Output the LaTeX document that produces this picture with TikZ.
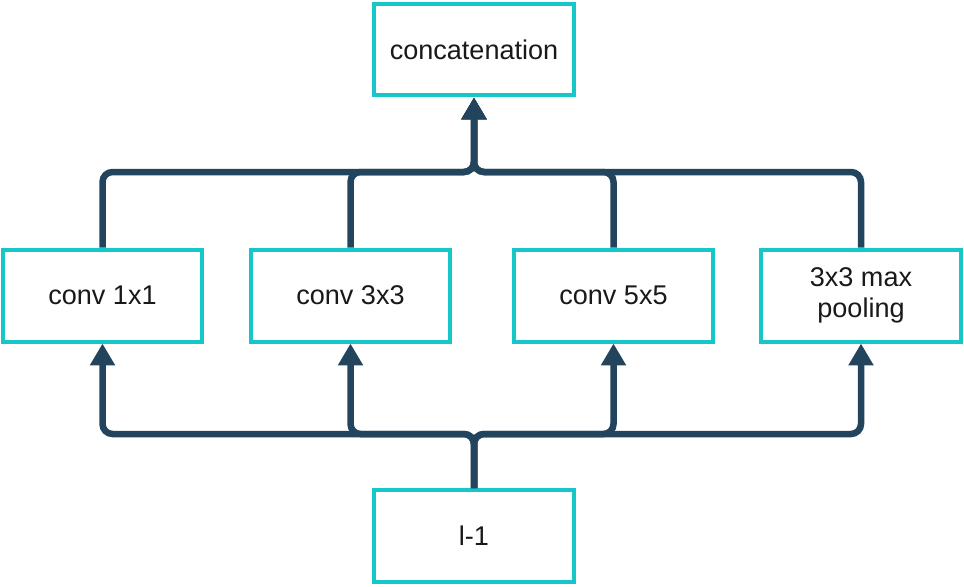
\documentclass[tikz,border=0pt]{standalone}
\usepackage{fontspec}
\setmainfont{Liberation Sans}
\usetikzlibrary{arrows.meta}
\definecolor{tealb}{RGB}{22,198,201}
\definecolor{navy}{RGB}{35,68,93}
\begin{document}
\begin{tikzpicture}[x=0.02cm,y=-0.02cm,
  blk/.style={draw=tealb, line width=0.08cm, minimum width=4cm, minimum height=1.84cm, inner sep=0pt, align=center, font=\fontsize{15.4}{17.5}\selectfont, fill=white, text=black!90},
  link/.style={draw=navy, line width=0.13cm, rounded corners=0.2cm},
  arr/.style={link, -{Triangle[width=0.48cm,length=0.44cm]}}]
\useasboundingbox (0,0) rectangle (964,586);
\node[blk] (cat) at (474,49.5) {concatenation};
\node[blk] (c1) at (102.5,295.5) {conv 1x1};
\node[blk] (c3) at (350.5,295.5) {conv 3x3};
\node[blk] (c5) at (613.5,295.5) {conv 5x5};
\node[blk] (mp) at (861,295.5) {3x3 max\\pooling};
\node[blk] (in) at (474,536) {l-1};
\coordinate (tj) at (474,172);
\coordinate (bj) at (474,434);
\foreach \n in {c1,c3,c5,mp} {
  \draw[arr] (\n.north) |- (tj) -- (cat.south);
  \draw[arr] (in.north) -- (bj) -| (\n.south);
}
\end{tikzpicture}
\end{document}
